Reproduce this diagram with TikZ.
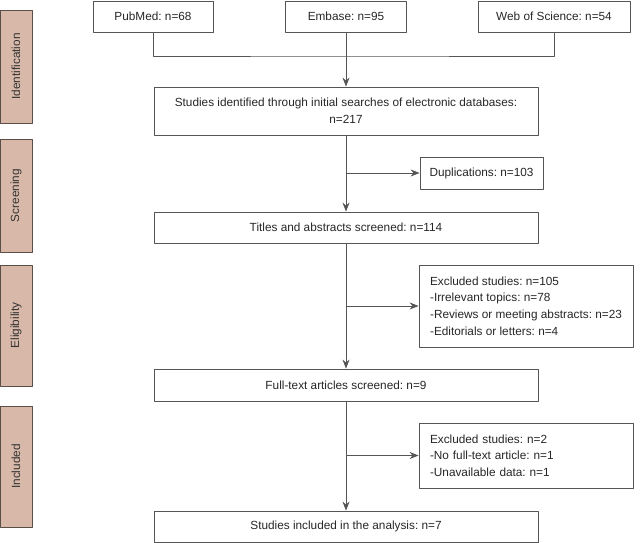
\documentclass[tikz,border=0pt]{standalone}
\usepackage{fontspec}
\setmainfont{Liberation Sans}
\usetikzlibrary{arrows.meta,positioning}
\frenchspacing

\definecolor{stagefill}{HTML}{D8B9A9}
\definecolor{stageline}{HTML}{5A4E48}
\definecolor{boxline}{HTML}{555555}

\tikzset{
  stage/.style={draw=stageline, fill=stagefill, line width=0.9pt, rotate=90,
    minimum height=32, inner sep=0pt, text=black!80},
  box/.style={draw=boxline, line width=0.8pt, inner sep=0pt, align=center,
    text=black!85},
  note/.style={draw=boxline, line width=0.8pt, inner sep=0pt, align=left,
    text=black!85, minimum width=214},
  arr/.style={-{Stealth[length=9pt,width=7pt]}, draw=boxline, line width=0.8pt},
  link/.style={draw=boxline, line width=0.8pt}
}

\begin{document}
\begin{tikzpicture}[x=1pt, y=1pt, line join=round,
  every node/.style={font=\fontsize{11.8}{16.7}\selectfont}]

\useasboundingbox (0,0) rectangle (640,-543);

% stages
\node (ident) at (16,-66.5) [stage, minimum width=113] {Identification};
\node (screen) at (16,-195.5) [stage, minimum width=113] {Screening};
\node (elig) at (16,-325.5) [stage, minimum width=121] {Eligibility};
\node (incl) at (16,-466.5) [stage, minimum width=121] {Included};

% databases
\node (pubmed) at (153,-16.5) [box, minimum width=120, minimum height=31] {PubMed: n=68};
\node (embase) at (346,-16.5) [box, minimum width=121, minimum height=31] {Embase: n=95};
\node (wos) at (554,-16.5) [box, minimum width=152, minimum height=31] {Web of Science: n=54};

% main column
\node (studies) at (346,-111) [box, minimum width=384, minimum height=48]
  {Studies identified through initial searches of electronic databases:\\n=217};
\node (titles) at (346,-227.5) [box, minimum width=384, minimum height=31]
  {Titles and abstracts screened: n=114};
\node (fulltext) at (346,-385) [box, minimum width=384, minimum height=32]
  {Full-text articles screened: n=9};
\node (final) at (346,-526.5) [box, minimum width=384, minimum height=31]
  {Studies included in the analysis: n=7};

% side boxes
\node (dup) at (481.5,-173) [box, minimum width=123, minimum height=32] {Duplications: n=103};
\node (excl1) at (526,-306) [note, minimum height=82]
  {Excluded studies: n=105\\-Irrelevant topics: n=78\\-Reviews or meeting abstracts: n=23\\-Editorials or letters: n=4};
\node (excl2) at (526,-455.5) [note, minimum height=65, text width=192]
  {Excluded studies: n=2\\-No full-text article: n=1\\-Unavailable data: n=1};

\coordinate (join) at (346,-56);

\draw[link] (pubmed.south) |- (join) -| (wos.south);
\draw[arr] (embase.south) -- (studies.north);

\draw[arr] (studies.south) -- (titles.north);
\draw[arr] (studies.south |- dup.west) -- (dup.west);

\draw[arr] (titles.south) -- (fulltext.north);
\draw[arr] (titles.south |- excl1.west) -- (excl1.west);

\draw[arr] (fulltext.south) -- (final.north);
\draw[arr] (fulltext.south |- excl2.west) -- (excl2.west);

\end{tikzpicture}
\end{document}
